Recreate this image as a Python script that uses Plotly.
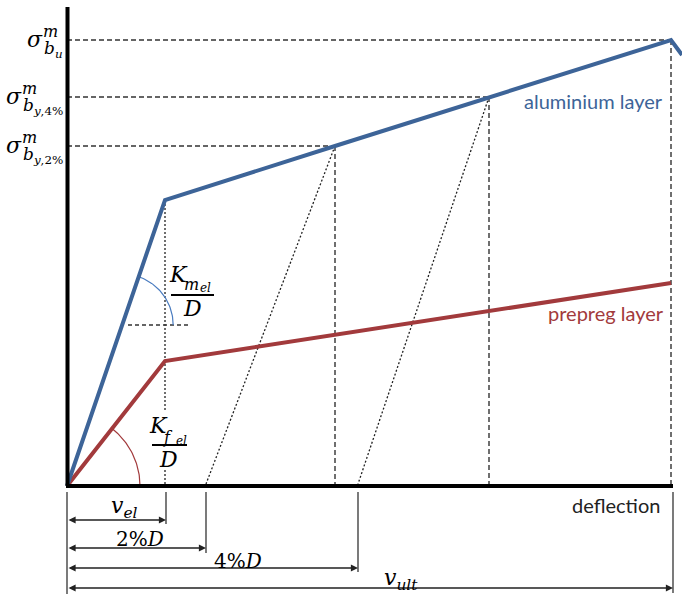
import numpy as np
import plotly.graph_objects as go

# ---------------- data (schematic units) ----------------
al_defl = [0, 98, 268, 422, 604, 615]        # aluminium layer: deflection
al_stress = [0, 286, 340, 389, 446, 431]     # aluminium layer: bending stress
pp_defl = [0, 98, 604]                       # prepreg layer: deflection
pp_stress = [0, 125, 203]                    # prepreg layer: stress

v_el = 99          # elastic deflection limit
d_2pct = 139       # 2 % D offset
d_4pct = 291       # 4 % D offset
v_ult = 606        # ultimate deflection

sig_2pct = 340     # σ_by,2%
sig_4pct = 389     # σ_by,4%
sig_u = 446        # σ_bu
yield_al = 286     # aluminium elastic limit
yield_pp = 125     # prepreg elastic limit

unload_2_defl = [268, d_2pct]
unload_2_stress = [sig_2pct, 2]
unload_4_defl = [422, d_4pct]
unload_4_stress = [sig_4pct, 2]

BLUE = "#3d6498"
RED = "#a23a3c"
INK = "#222222"
MATH = "DejaVu Serif"
SANS = "Lato"

# pixel helpers for label placement (figure 682x594, plot area = whole figure)
def X(px):
    return px - 67
def Y(py):
    return 486 - py

DASH = dict(color="#333", width=1.4, dash="5px,3px")
DOT = dict(color="#222", width=1.3, dash="2px,2px")

fig = go.Figure()

# reference dashed lines
for d, s in [(268, sig_2pct), (422, sig_4pct), (604, sig_u)]:
    fig.add_trace(go.Scatter(x=[0, d], y=[s, s], mode="lines", line=DASH,
                             hoverinfo="skip", showlegend=False))
    fig.add_trace(go.Scatter(x=[d, d], y=[s, 0], mode="lines", line=DASH,
                             hoverinfo="skip", showlegend=False))

# vertical dotted line at v_el (interrupted by label)
fig.add_trace(go.Scatter(x=[98, 98], y=[yield_al, Y(412)], mode="lines", line=DOT,
                         hoverinfo="skip", showlegend=False))
fig.add_trace(go.Scatter(x=[98, 98], y=[Y(470), 0], mode="lines", line=DOT,
                         hoverinfo="skip", showlegend=False))
# small horizontal dashed reference for stiffness angle
fig.add_trace(go.Scatter(x=[X(128), X(188)], y=[Y(325), Y(325)], mode="lines",
                         line=dict(color="#333", width=1.3, dash="4px,3px"),
                         hoverinfo="skip", showlegend=False))

# unloading lines
for xs, ys in [(unload_2_defl, unload_2_stress), (unload_4_defl, unload_4_stress)]:
    fig.add_trace(go.Scatter(x=xs, y=ys, mode="lines", line=DOT,
                             hoverinfo="skip", showlegend=False))

# angle arcs
ang_al = np.arctan2(yield_al, al_defl[1])
cx = Y(325) * al_defl[1] / yield_al
t = np.linspace(0, ang_al, 40)
fig.add_trace(go.Scatter(x=cx + 51 * np.cos(t), y=Y(325) + 51 * np.sin(t), mode="lines",
                         line=dict(color="#4a7cc0", width=1.2),
                         hoverinfo="skip", showlegend=False))
ang_pp = np.arctan2(yield_pp, pp_defl[1])
t = np.linspace(0, ang_pp, 40)
fig.add_trace(go.Scatter(x=73 * np.cos(t), y=73 * np.sin(t), mode="lines",
                         line=dict(color=RED, width=1.2),
                         hoverinfo="skip", showlegend=False))

# main curves
fig.add_trace(go.Scatter(x=pp_defl, y=pp_stress, mode="lines",
                         line=dict(color=RED, width=4), hoverinfo="skip", showlegend=False))
fig.add_trace(go.Scatter(x=al_defl, y=al_stress, mode="lines",
                         line=dict(color=BLUE, width=4), hoverinfo="skip", showlegend=False))

shapes = []
# axes
shapes.append(dict(type="line", x0=0.5, x1=0.5, y0=0, y1=Y(7), line=dict(color="black", width=4)))
shapes.append(dict(type="line", x0=-1, x1=v_ult, y0=0, y1=0, line=dict(color="black", width=4)))
# fraction bars
shapes.append(dict(type="line", x0=X(171), x1=X(214), y0=Y(295), y1=Y(295), line=dict(color="black", width=2)))
shapes.append(dict(type="line", x0=X(152), x1=X(187), y0=Y(445), y1=Y(445), line=dict(color="black", width=2)))
# dimension extension lines
for xd, ybot in [(0, 594), (v_el, 524), (d_2pct, 553), (d_4pct, 572), (v_ult, 593)]:
    shapes.append(dict(type="line", x0=xd, x1=xd, y0=Y(492), y1=Y(ybot),
                       line=dict(color=INK, width=1.2)))

ann = []
# dimension arrows
for xd, yy in [(v_el, 520), (d_2pct, 548), (d_4pct, 568), (v_ult, 588)]:
    ann.append(dict(x=xd, y=Y(yy), ax=0, ay=Y(yy), xref="x", yref="y", axref="x", ayref="y",
                    text="", showarrow=True, arrowhead=2, arrowside="end+start",
                    arrowsize=1.1, arrowwidth=1.3, arrowcolor=INK, standoff=0, startstandoff=0))

def txt(px, py, s, size, color="black", font=MATH, xanchor="center", yanchor="middle"):
    ann.append(dict(x=X(px), y=Y(py), xref="x", yref="y", text=s, showarrow=False,
                    font=dict(family=font, size=size, color=color), borderpad=0,
                    xanchor=xanchor, yanchor=yanchor))

# sigma labels
txt(35, 39, "<i>σ</i>", 22)
txt(50, 31, "<i>m</i>", 16)
txt(43, 49, "<i>b</i><sub><i>u</i></sub>", 17, xanchor="left")

txt(14, 96, "<i>σ</i>", 22)
txt(29, 88, "<i>m</i>", 16)
txt(22, 106, "<i>b</i><sub><i>y</i>,4%</sub>", 17, xanchor="left")

txt(14, 145, "<i>σ</i>", 22)
txt(29, 137, "<i>m</i>", 16)
txt(22, 155, "<i>b</i><sub><i>y</i>,2%</sub>", 17, xanchor="left")

# stiffness fractions
txt(178, 274, "<i>K</i>", 22)
txt(191, 284, "<i>m</i>", 16)
txt(205, 288, "<i>el</i>", 12)
txt(192, 308, "<i>D</i>", 22)

txt(158, 425, "<i>K</i>", 22)
txt(168, 437, "<i>f</i>", 16)
txt(181, 441, "<i>el</i>", 12)
txt(168, 459, "<i>D</i>", 22)

# dimension labels
txt(110, 507, "<i>v</i><sub><i>el</i></sub>", 22, xanchor="left")
txt(140, 539, "2%<i>D</i>", 20)
txt(238, 561, "4%<i>D</i>", 20)
txt(383, 579, "<i>v</i><sub><i>ult</i></sub>", 22, xanchor="left")

# series / axis labels
txt(664, 101, "aluminium layer", 20, color=BLUE, font=SANS, xanchor="right")
txt(665, 313, "prepreg layer", 20, color=RED, font=SANS, xanchor="right")
txt(661, 505, "deflection", 20, color="#222", font=SANS, xanchor="right")

fig.update_layout(
    width=682, height=594,
    margin=dict(l=0, r=0, t=0, b=0),
    paper_bgcolor="white", plot_bgcolor="white",
    xaxis=dict(range=[-67, 615], visible=False, fixedrange=True),
    yaxis=dict(range=[-108, 486], visible=False, fixedrange=True),
    shapes=shapes, annotations=ann, showlegend=False,
)

fig.write_html("out.html")
